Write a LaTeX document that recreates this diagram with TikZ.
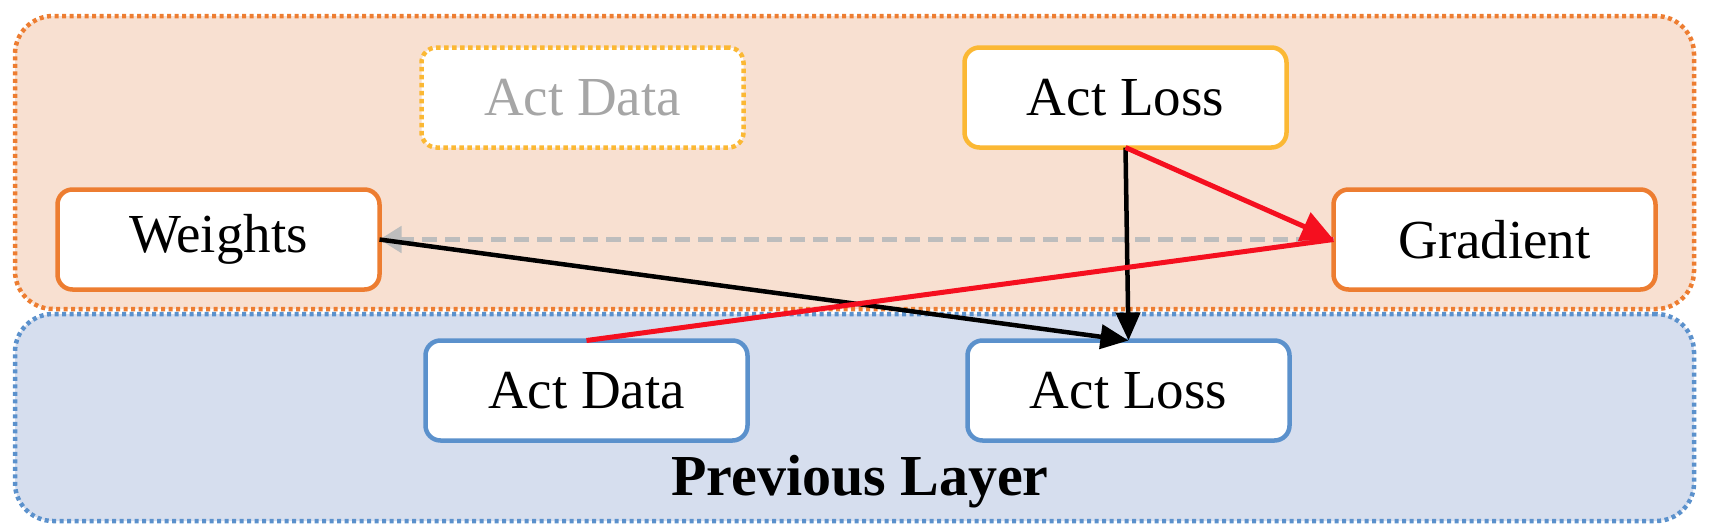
\documentclass[tikz,border=0pt]{standalone}
\usepackage{fontspec}
\setmainfont{Liberation Serif}
\usetikzlibrary{arrows.meta}
\definecolor{orgfill}{HTML}{F8E0D1}
\definecolor{orgline}{HTML}{ED7D31}
\definecolor{bluefill}{HTML}{D6DEEE}
\definecolor{blueline}{HTML}{5B91CC}
\definecolor{goldline}{HTML}{FBB834}
\definecolor{graytext}{HTML}{A6A6A6}
\definecolor{grayline}{HTML}{BDBDBD}
\definecolor{redline}{HTML}{F50F1F}
\tikzset{
  container/.style={rounded corners=38pt, line width=4.5pt, dash pattern=on 4pt off 3.5pt, inner sep=0pt, outer sep=0pt},
  box/.style={rounded corners=15pt, fill=white, line width=4.5pt, minimum width=322pt, minimum height=100pt, inner sep=0pt, outer sep=0pt, font=\fontsize{55}{60}\selectfont},
  blk/.style={line width=4.5pt, draw=black, -{Triangle[length=28pt,width=24pt]}},
  redarrow/.style={line width=5pt, draw=redline},
  grayarrow/.style={line width=5pt, draw=grayline, dash pattern=on 15pt off 8pt, -{Triangle[length=22pt,width=26pt,fill=grayline]}},
}
\begin{document}
\begin{tikzpicture}[x=1pt,y=-1pt]
\useasboundingbox (0,0) rectangle (1710,530);
% containers
\node[container, fill=orgfill, draw=orgline, minimum width=1679pt, minimum height=293pt] (cur) at (854.5,162.5) {};
\node[container, fill=bluefill, draw=blueline, minimum width=1679pt, minimum height=207pt] (prev) at (854.5,417.5) {};
\node[font=\bfseries\fontsize{58}{62}\selectfont] (prevlabel) at (860,482) {Previous Layer};
% boxes
\node[box, draw=goldline, dash pattern=on 4.5pt off 3.5pt, text=graytext] (actdataT) at (582.5,97.5) {Act Data};
\node[box, draw=goldline] (actlossT) at (1125.5,97.5) {Act Loss};
\node[box, draw=orgline] (weights) at (218.5,239.5) {Weights};
\node[box, draw=orgline] (gradient) at (1494.5,239.5) {Gradient};
\node[box, draw=blueline] (actdataB) at (586.5,390.5) {Act Data};
\node[box, draw=blueline] (actlossB) at (1128.5,390.5) {Act Loss};
% connectors
\draw[grayarrow] (gradient.west) -- (weights.east);
\draw[blk] (weights.east) -- (actlossB.north);
\draw[blk] (actlossT.south) -- (actlossB.north);
\draw[redarrow] (actdataB.north) -- (gradient.west);
\draw[redarrow, -{Triangle[length=32pt,width=30pt]}] (actlossT.south) -- (gradient.west);
\end{tikzpicture}
\end{document}
